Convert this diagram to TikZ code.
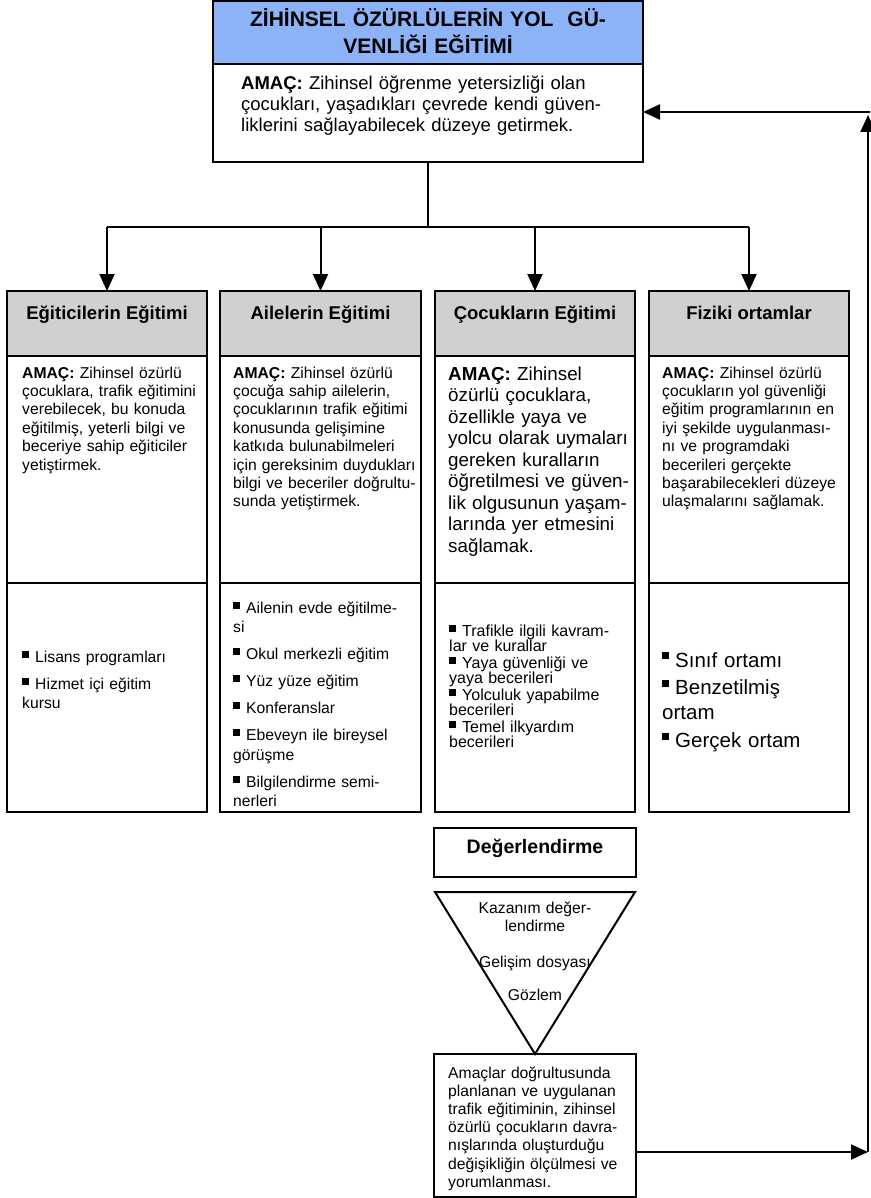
\documentclass[tikz,border=0pt]{standalone}
\usepackage{fontspec}
\setmainfont{Liberation Sans}
\usetikzlibrary{arrows.meta}
\definecolor{tblue}{RGB}{140,179,248}
\definecolor{hgray}{RGB}{208,208,208}
\newcommand\fsz[2]{\fontsize{#1}{#2}\selectfont}
\newcommand\blt{\raisebox{\dimexpr0.716em-7pt\relax}{\rule{7pt}{7pt}}\hspace{6pt}}
\begin{document}
\begin{tikzpicture}[x=1pt,y=-1pt,
  frame/.style={draw=black, line width=2pt, inner sep=0pt, outer sep=0pt},
  conn/.style={draw=black, line width=2pt},
  arr/.style={conn, -{Triangle[length=17pt,width=15pt]}},
  txt/.style={anchor=base west, inner sep=0pt, text width=300pt, align=left},
  ctxt/.style={anchor=base, inner sep=0pt, align=center},
  colbox/.style={frame, minimum width=200pt, minimum height=521pt},
  colhead/.style={frame, fill=hgray, minimum width=200pt, minimum height=65pt, anchor=north},
  headtxt/.style={ctxt, font=\bfseries\fsz{18.5}{22}},
  amac/.style={txt, font=\fsz{15.7}{18.4}}
]
\useasboundingbox (0,0) rectangle (870,1198);

% top box
\node[frame, minimum width=430pt, minimum height=161pt] (top) at (428,81.5) {};
\node[frame, fill=tblue, minimum width=430pt, minimum height=63pt, anchor=north] (band) at (top.north) {};
\node[ctxt, text width=420pt, font=\bfseries\fsz{21}{27}] (title) at (428,27) {ZİHİNSEL ÖZÜRLÜLERİN YOL\ \ GÜ-\\VENLİĞİ EĞİTİMİ};
\node[txt, text width=420pt, font=\fsz{18.5}{21}] (topamac) at (241,90) {\textbf{AMAÇ:} Zihinsel öğrenme yetersizliği olan\\çocukları, yaşadıkları çevrede kendi güven-\\liklerini sağlayabilecek düzeye getirmek.};

% columns
\node[colbox, minimum width=200pt] (c1) at (107,551.5) {};
\node[colbox, minimum width=201pt] (c2) at (320.5,551.5) {};
\node[colbox] (c3) at (535,551.5) {};
\node[colbox] (c4) at (749,551.5) {};
\node[colhead, minimum width=200pt] (h1) at (c1.north) {};
\node[colhead, minimum width=201pt] (h2) at (c2.north) {};
\node[colhead] (h3) at (c3.north) {};
\node[colhead] (h4) at (c4.north) {};
\coordinate (dv) at (0,583);
\foreach \c in {c1,c2,c3,c4} {\draw[conn] (\c.west |- dv) -- (\c.east |- dv);}

\node[headtxt] (t1) at (107,319) {Eğiticilerin Eğitimi};
\node[headtxt] (t2) at (320.5,319) {Ailelerin Eğitimi};
\node[headtxt] (t3) at (535,319) {Çocukların Eğitimi};
\node[headtxt] (t4) at (749,319) {Fiziki ortamlar};

\node[amac] (a1) at (22,378) {\textbf{AMAÇ:} Zihinsel özürlü\\çocuklara, trafik eğitimini\\verebilecek, bu konuda\\eğitilmiş, yeterli bilgi ve\\beceriye sahip eğiticiler\\yetiştirmek.};
\node[amac] (a2) at (233,378) {\textbf{AMAÇ:} Zihinsel özürlü\\çocuğa sahip ailelerin,\\çocuklarının trafik eğitimi\\konusunda gelişimine\\katkıda bulunabilmeleri\\için gereksinim duydukları\\bilgi ve beceriler doğrultu-\\sunda yetiştirmek.};
\node[txt, font=\fsz{18.8}{21.5}] (a3) at (448,380) {\textbf{AMAÇ:} Zihinsel\\özürlü çocuklara,\\özellikle yaya ve\\yolcu olarak uymaları\\gereken kuralların\\öğretilmesi ve güven-\\lik olgusunun yaşam-\\larında yer etmesini\\sağlamak.};
\node[amac] (a4) at (662,378) {\textbf{AMAÇ:} Zihinsel özürlü\\çocukların yol güvenliği\\eğitim programlarının en\\iyi şekilde uygulanması-\\nı ve programdaki\\becerileri gerçekte\\başarabilecekleri düzeye\\ulaşmalarını sağlamak.};

\node[txt, font=\fsz{15.7}{19}] (l1) at (22,662) {\blt Lisans programları\\[8pt]\blt Hizmet içi eğitim\\kursu};
\node[txt, font=\fsz{15.7}{19.5}] (l2) at (233,613) {\blt Ailenin evde eğitilme-\\si\\[7.5pt]\blt Okul merkezli eğitim\\[7.5pt]\blt Yüz yüze eğitim\\[7.5pt]\blt Konferanslar\\[7.5pt]\blt Ebeveyn ile bireysel\\görüşme\\[7.5pt]\blt Bilgilendirme semi-\\nerleri};
\node[txt, font=\fsz{16}{15}] (l3) at (449,636) {\blt Trafikle ilgili kavram-\\lar ve kurallar\\[2pt]\blt Yaya güvenliği ve\\yaya becerileri\\[2pt]\blt Yolculuk yapabilme\\becerileri\\[2pt]\blt Temel ilkyardım\\becerileri};
\node[txt, font=\fsz{20.5}{25}] (l4) at (662,667) {\blt Sınıf ortamı\\[2.5pt]\blt Benzetilmiş\\ortam\\[3pt]\blt Gerçek ortam};

% tree connectors
\coordinate (hub) at (428,227);
\draw[conn] (top.south) -- (hub);
\draw[conn] (c1.north |- hub) -- (c4.north |- hub);
\foreach \c in {c1,c2,c3,c4} {\draw[arr] (\c.north |- hub) -- (\c.north);}

% evaluation
\node[frame, minimum width=202pt, minimum height=49pt] (deg) at (535,852.5) {};
\node[ctxt, font=\bfseries\fsz{19.5}{22}] (degt) at (535,853) {Değerlendirme};
\coordinate (tl) at (435,892);
\coordinate (tr) at (635,892);
\coordinate (tb) at (535,1054);
\draw[line width=2pt, line join=miter] (tl) -- (tr) -- (tb) -- cycle;
\node[ctxt, text width=190pt, font=\fsz{15.7}{18}] (trit) at (535,913) {Kazanım değer-\\lendirme\\[18pt]Gelişim dosyası\\[15pt]Gözlem};
\node[frame, minimum width=202pt, minimum height=143pt] (bot) at (535,1125.5) {};
\node[txt, font=\fsz{15.7}{18.2}] (bott) at (448,1078) {Amaçlar doğrultusunda\\planlanan ve uygulanan\\trafik eğitiminin, zihinsel\\özürlü çocukların davra-\\nışlarında oluşturduğu\\değişikliğin ölçülmesi ve\\yorumlanması.};

% feedback loop
\coordinate (fbr) at (868,1152);
\coordinate (fvt) at (868,115);
\coordinate (ftr) at (870,112);
\draw[arr] (bot.east |- fbr) -- (fbr);
\draw[arr] (fbr) -- (fvt);
\draw[arr] (ftr) -- (top.east |- ftr);
\end{tikzpicture}
\end{document}
